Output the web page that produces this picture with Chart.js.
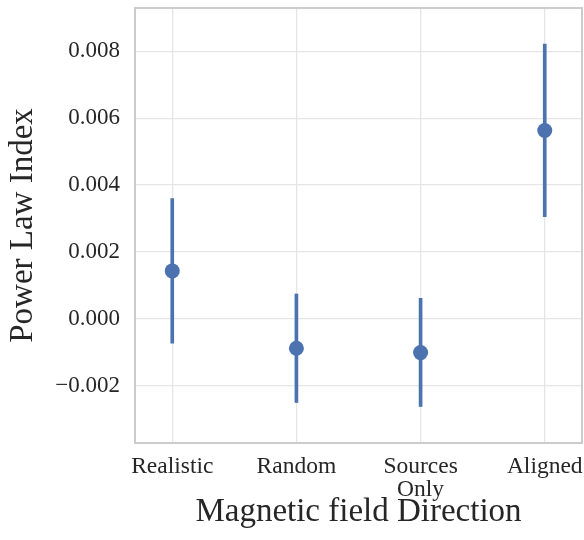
<!DOCTYPE html>
<html>
<head>
<meta charset="utf-8">
<script src="https://cdn.jsdelivr.net/npm/chart.js@4"></script>
<style>
  html, body { margin: 0; padding: 0; background: #fff; }
  #wrap { width: 584px; height: 540px; }
</style>
</head>
<body>
<div id="wrap"><canvas id="chart"></canvas></div>
<script>
// values
const categories = ['Realistic', 'Random', ['Sources', 'Only'], 'Aligned'];
const means = [0.00144, -0.00087, -0.00100, 0.00563];
const lower = [-0.00072, -0.00249, -0.00261, 0.00306];
const upper = [0.00360, 0.00075, 0.00062, 0.00821];

const blue = '#4c72b0';
const textColor = '#262626';
const serif = "'Liberation Serif', 'Times New Roman', serif";

// frame round the plot area
const frame = {
  id: 'frame',
  afterDraw(chart) {
    const {ctx, chartArea: a} = chart;
    ctx.save();
    ctx.strokeStyle = '#cccccc';
    ctx.lineWidth = 2;
    ctx.strokeRect(a.left, a.top, a.right - a.left, a.bottom - a.top);
    ctx.restore();
  }
};

const ctx = document.getElementById('chart').getContext('2d');
new Chart(ctx, {
  type: 'scatter',
  data: {
    datasets: [
      {
        type: 'scatter',
        order: 0,
        data: means.map((m, i) => ({x: i, y: m})),
        backgroundColor: blue,
        pointRadius: 7.5,
        pointHoverRadius: 7.5,
        pointBorderWidth: 0,
        showLine: false
      },
      {
        type: 'bar',
        order: 1,
        data: lower.map((lo, i) => ({x: i, y: [lo, upper[i]]})),
        backgroundColor: blue,
        borderWidth: 0,
        borderSkipped: false,
        barThickness: 3
      }
    ]
  },
  options: {
    responsive: true,
    maintainAspectRatio: false,
    animation: false,
    layout: { autoPadding: false, padding: { top: 8, right: 2, left: 0, bottom: 0 } },
    plugins: { legend: { display: false }, tooltip: { enabled: false } },
    scales: {
      x: {
        type: 'linear',
        min: -0.3,
        max: 3.3,
        offset: false,
        afterFit(scale) {
          scale.height = 97;
          scale.paddingLeft = 0;
          scale.paddingRight = 0;
        },
        grid: { color: '#e5e5e5', lineWidth: 1.3, drawTicks: false, offset: false },
        border: { display: false },
        ticks: {
          stepSize: 1,
          includeBounds: false,
          maxRotation: 0,
          autoSkip: false,
          padding: 12,
          color: textColor,
          font: { family: serif, size: 23.5, lineHeight: 1.0 },
          callback: v => Number.isInteger(v) ? categories[v] : ''
        },
        title: {
          display: true,
          text: 'Magnetic field Direction',
          color: textColor,
          font: { family: serif, size: 33 },
          padding: { top: 0, bottom: 8 }
        }
      },
      y: {
        min: -0.00370,
        max: 0.00929,
        afterFit(scale) {
          scale.width = 135;
          scale.paddingTop = 0;
          scale.paddingBottom = 0;
        },
        grid: { color: '#e5e5e5', lineWidth: 1.3, drawTicks: false },
        border: { display: false },
        ticks: {
          stepSize: 0.002,
          includeBounds: false,
          padding: 15,
          color: textColor,
          font: { family: serif, size: 23 },
          callback: v => {
            if (Math.abs(v) < 1e-12) return '0.000';
            return v.toFixed(3).replace('-', '\u2212');
          }
        },
        title: {
          display: true,
          text: 'Power Law Index',
          color: textColor,
          font: { family: serif, size: 33 },
          padding: { top: 4, bottom: 0 }
        }
      }
    }
  },
  plugins: [frame]
});
</script>
</body>
</html>
